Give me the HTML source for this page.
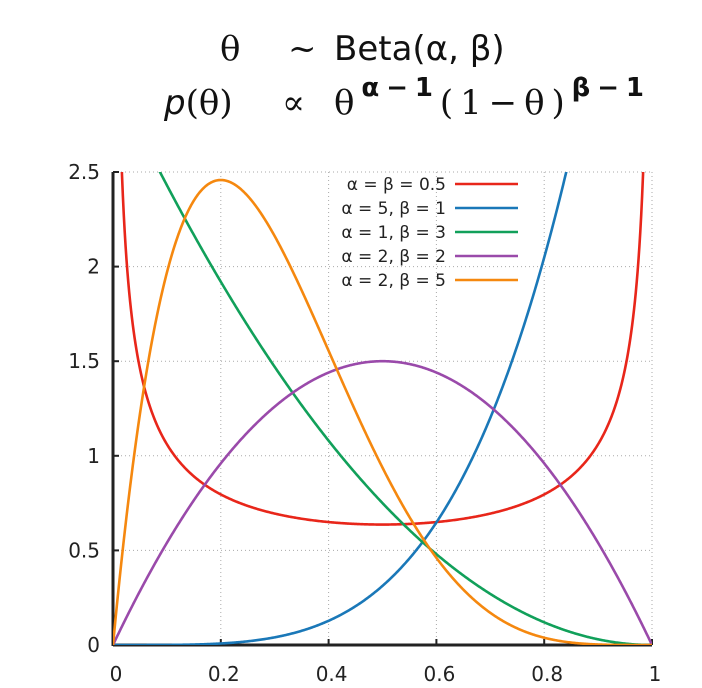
<!DOCTYPE html>
<html><head><meta charset="utf-8"><style>
body{margin:0;background:#fff;width:702px;height:688px;overflow:hidden}
svg{display:block}
</style></head><body>
<svg id="chart" width="702" height="688" viewBox="0 0 702 688" font-family="'DejaVu Sans','Liberation Sans',sans-serif">
<g font-family="'DejaVu Serif','Liberation Serif',serif" font-size="34" fill="#111">
<text x="220" y="60">θ</text>
<text x="288" y="60">~</text>
<text x="334" y="60" font-family="'DejaVu Sans',sans-serif" font-size="34">Beta(α, β)</text>
<text x="164" y="114"><tspan font-style="italic" font-family="'DejaVu Sans',sans-serif">p</tspan>(θ)</text>
<text x="282" y="114">∝</text>
<text x="334" y="114" textLength="310">θ<tspan dy="-18" font-size="26" font-weight="bold" font-family="'DejaVu Sans',sans-serif">α−1</tspan><tspan dy="18">(1−θ)</tspan><tspan dy="-18" font-size="26" font-weight="bold" font-family="'DejaVu Sans',sans-serif">β−1</tspan></text>
</g>
<g id="axes"></g>
<g id="series"></g>
<g id="legend"></g>
</svg>
<script>
const xTicks=[0,0.2,0.4,0.6,0.8,1];
const xTickLabels=["0","0.2","0.4","0.6","0.8","1"];
const yTicks=[0,0.5,1,1.5,2,2.5];
const yTickLabels=["0","0.5","1","1.5","2","2.5"];
const alphas=[0.5,5,1,2,2];
const betas=[0.5,1,3,2,5];
const seriesLabels=["α = β = 0.5","α = 5, β = 1","α = 1, β = 3","α = 2, β = 2","α = 2, β = 5"];
const colors=["#e8261a","#1a78b8","#11a05a","#9a4aaa","#f5880f"];

const X0=113,X1=652,Y0=645,Y1=172;
const xs=v=>X0+(X1-X0)*v, ys=v=>Y0-(Y0-Y1)*v/2.5;
const NS="http://www.w3.org/2000/svg";
function mk(tag,attrs,parent){const e=document.createElementNS(NS,tag);for(const k in attrs)e.setAttribute(k,attrs[k]);parent.appendChild(e);return e;}
const axes=document.getElementById('axes');
xTicks.forEach((t,i)=>{
 if(t>0){const g=mk('line',{x1:xs(t),x2:xs(t),y1:Y0,y2:Y1,stroke:'#aaa','stroke-width':1,'stroke-dasharray':'1,3'},axes);
 
 }
 const tk=mk('line',{x1:xs(t),x2:xs(t),y1:Y0,y2:Y0-6,stroke:'#222','stroke-width':2},axes);
 
 
 const tx=mk('text',{x:xs(t)+3,y:681,'text-anchor':'middle','font-size':20,fill:'#222'},axes);tx.textContent=xTickLabels[i];
 
 
});
yTicks.forEach((t,i)=>{
 if(t>0){const g=mk('line',{x1:X0,x2:X1,y1:ys(t),y2:ys(t),stroke:'#aaa','stroke-width':1,'stroke-dasharray':'1,3'},axes);
 
 }
 const tk=mk('line',{x1:X0,x2:X0+6,y1:ys(t),y2:ys(t),stroke:'#222','stroke-width':2},axes);
 
 
 const tx=mk('text',{x:100,y:ys(t)+7,'text-anchor':'end','font-size':20,fill:'#222'},axes);tx.textContent=yTickLabels[i];
 
 
});
const la=mk('line',{x1:X0,x2:X0,y1:Y0+1,y2:Y1,stroke:'#222','stroke-width':3},axes);


const ba=mk('line',{x1:X0,x2:X1,y1:Y0,y2:Y0,stroke:'#222','stroke-width':3},axes);



function lgamma(z){const g=[76.18009172947146,-86.50532032941677,24.01409824083091,-1.231739572450155,0.1208650973866179e-2,-0.5395239384953e-5];let x=z,y=z,t=x+5.5;t-=(x+0.5)*Math.log(t);let s=1.000000000190015;for(let j=0;j<6;j++)s+=g[j]/++y;return -t+Math.log(2.5066282746310005*s/x);}
function pdf(x,a,b){return Math.exp(lgamma(a+b)-lgamma(a)-lgamma(b)+(a-1)*Math.log(x)+(b-1)*Math.log(1-x));}
const series=document.getElementById('series');
const clip=mk('clipPath',{id:'pc'},series);mk('rect',{x:X0,y:Y1,width:X1-X0,height:Y0-Y1},clip);
alphas.forEach((a,i)=>{
 const b=betas[i];let d='';const N=600;
 for(let k=0;k<=N;k++){let x=k/N;if(x==0)x=1e-5;if(x==1)x=1-1e-5;const v=Math.min(pdf(x,a,b),3);d+=(k?'L':'M')+xs(k/N).toFixed(2)+','+ys(v).toFixed(2);}
 const p=mk('path',{d:d,fill:'none',stroke:colors[i],'stroke-width':2.6,'clip-path':'url(#pc)'},series);
 
 
});
const leg=document.getElementById('legend');
seriesLabels.forEach((s,i)=>{
 const y=184+i*24;
 const t=mk('text',{x:446,y:y+6,'text-anchor':'end','font-size':17,fill:'#222'},leg);t.textContent=s;
 
 
 const l=mk('line',{x1:455,x2:518,y1:y,y2:y,stroke:colors[i],'stroke-width':2.6},leg);
 
 
});
</script>
</body></html>
